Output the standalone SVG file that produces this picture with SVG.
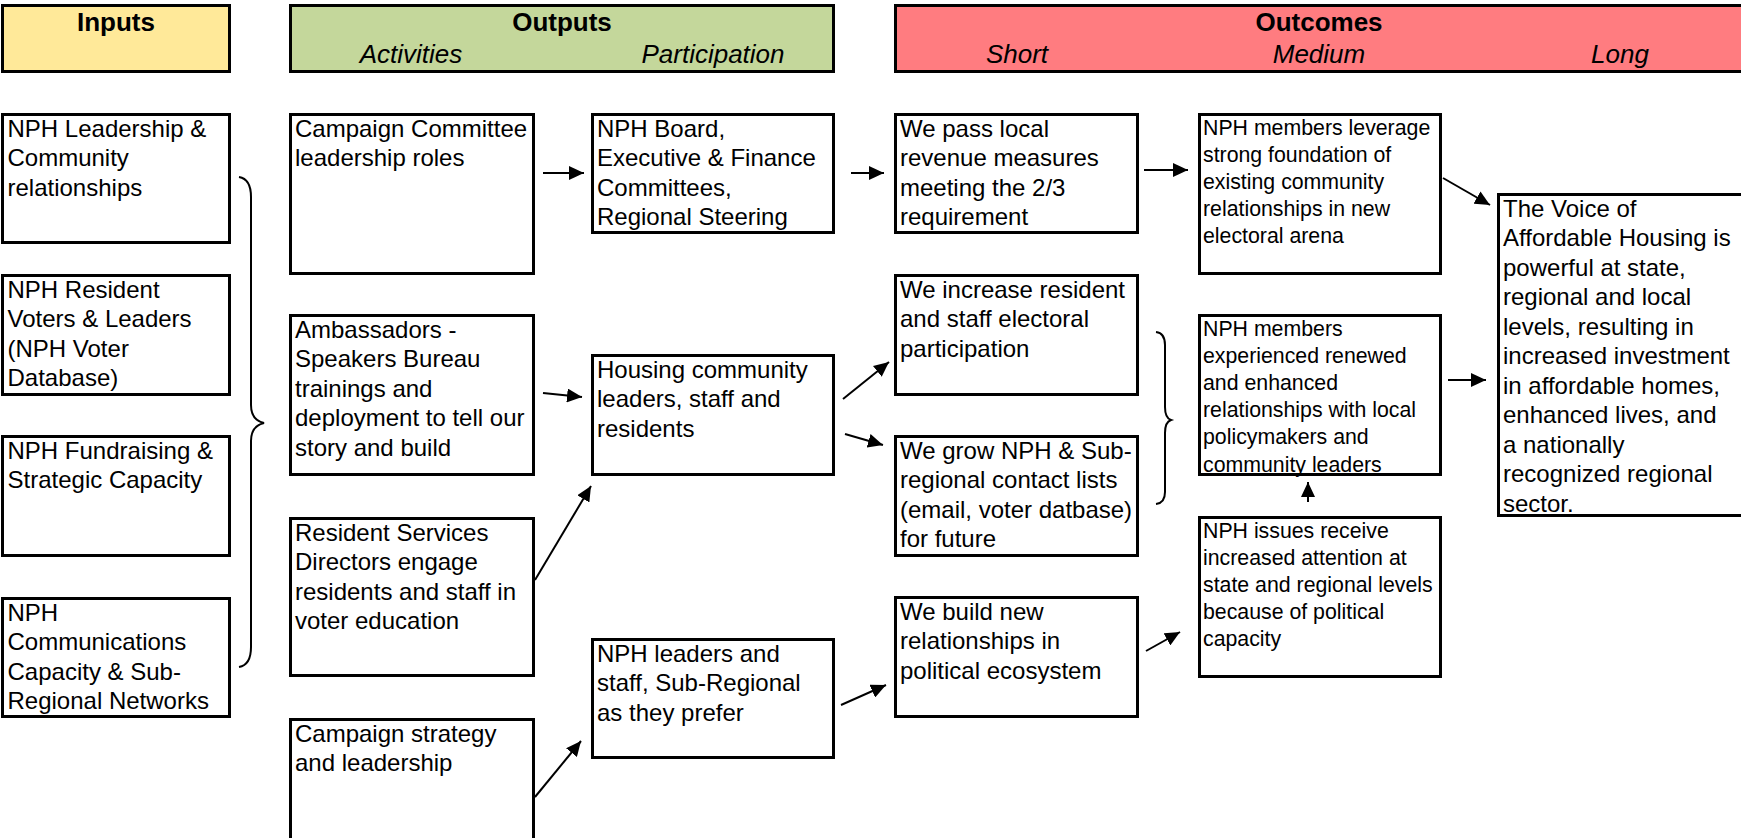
<svg xmlns="http://www.w3.org/2000/svg" width="1741" height="838" viewBox="0 0 1741 838">
<style>
  .box { fill: #FFFFFF; stroke: #000000; stroke-width: 3; }
  .hdr { stroke: #000000; stroke-width: 3; }
  .t { font-family: "Liberation Sans", Arial, sans-serif; font-size: 24px; fill: #000000; }
  .s { font-family: "Liberation Sans", Arial, sans-serif; font-size: 21.3px; fill: #000000; }
  .hb { font-family: "Liberation Sans", Arial, sans-serif; font-size: 26px; font-weight: bold; fill: #000000; text-anchor: middle; }
  .hi { font-family: "Liberation Sans", Arial, sans-serif; font-size: 26px; font-style: italic; fill: #000000; text-anchor: middle; }
  .c { fill: none; stroke: #000000; stroke-width: 2; }
  .a { marker-end: url(#arr); }
</style>
<defs>
  <marker id="arr" markerUnits="userSpaceOnUse" markerWidth="16" markerHeight="14" refX="15" refY="7" orient="auto">
    <path d="M0,0 L15,7 L0,14 Z" fill="#000000"/>
  </marker>
</defs>
<rect x="0" y="0" width="1741" height="838" fill="#FFFFFF"/>

<g id="headers">
  <g id="hdr-inputs">
    <rect class="hdr" x="2.5" y="5.5" width="227" height="66" fill="#FFE999"/>
    <text class="hb" x="116" y="30.5">Inputs</text>
  </g>
  <g id="hdr-outputs">
    <rect class="hdr" x="290.5" y="5.5" width="543" height="66" fill="#C4D79B"/>
    <text class="hb" x="562" y="30.5">Outputs</text>
    <text class="hi" x="411" y="63">Activities</text>
    <text class="hi" x="713" y="63">Participation</text>
  </g>
  <g id="hdr-outcomes">
    <rect class="hdr" x="895.5" y="5.5" width="900" height="66" fill="#FF7C80"/>
    <text class="hb" x="1319" y="30.5">Outcomes</text>
    <text class="hi" x="1017" y="63">Short</text>
    <text class="hi" x="1319" y="63">Medium</text>
    <text class="hi" x="1620" y="63">Long</text>
  </g>
</g>

<g id="in1">
  <rect class="box" x="2.5" y="114.5" width="227" height="128"/>
  <text class="t"><tspan x="7.5" y="136.5">NPH Leadership &amp;</tspan><tspan x="7.5" y="166">Community</tspan><tspan x="7.5" y="195.5">relationships</tspan></text>
</g>
<g id="in2">
  <rect class="box" x="2.5" y="275.5" width="227" height="119"/>
  <text class="t"><tspan x="7.5" y="297.5">NPH Resident</tspan><tspan x="7.5" y="327">Voters &amp; Leaders</tspan><tspan x="7.5" y="356.5">(NPH Voter</tspan><tspan x="7.5" y="386">Database)</tspan></text>
</g>
<g id="in3">
  <rect class="box" x="2.5" y="436.5" width="227" height="119"/>
  <text class="t"><tspan x="7.5" y="458.5">NPH Fundraising &amp;</tspan><tspan x="7.5" y="488">Strategic Capacity</tspan></text>
</g>
<g id="in4">
  <rect class="box" x="2.5" y="598.5" width="227" height="118"/>
  <text class="t"><tspan x="7.5" y="620.5">NPH</tspan><tspan x="7.5" y="650">Communications</tspan><tspan x="7.5" y="679.5">Capacity &amp; Sub-</tspan><tspan x="7.5" y="709">Regional Networks</tspan></text>
</g>

<g id="act1">
  <rect class="box" x="290.5" y="114.5" width="243" height="159"/>
  <text class="t"><tspan x="295" y="136.5">Campaign Committee</tspan><tspan x="295" y="166">leadership roles</tspan></text>
</g>
<g id="act2">
  <rect class="box" x="290.5" y="315.5" width="243" height="159"/>
  <text class="t"><tspan x="295" y="337.5">Ambassadors -</tspan><tspan x="295" y="367">Speakers Bureau</tspan><tspan x="295" y="396.5">trainings and</tspan><tspan x="295" y="426">deployment to tell our</tspan><tspan x="295" y="455.5">story and build</tspan></text>
</g>
<g id="act3">
  <rect class="box" x="290.5" y="518.5" width="243" height="157"/>
  <text class="t"><tspan x="295" y="540.5">Resident Services</tspan><tspan x="295" y="570">Directors engage</tspan><tspan x="295" y="599.5">residents and staff in</tspan><tspan x="295" y="629">voter education</tspan></text>
</g>
<g id="act4">
  <rect class="box" x="290.5" y="719.5" width="243" height="140"/>
  <text class="t"><tspan x="295" y="741.5">Campaign strategy</tspan><tspan x="295" y="771">and leadership</tspan></text>
</g>

<g id="part1">
  <rect class="box" x="592.5" y="114.5" width="241" height="118"/>
  <text class="t"><tspan x="597" y="136.5">NPH Board,</tspan><tspan x="597" y="166">Executive &amp; Finance</tspan><tspan x="597" y="195.5">Committees,</tspan><tspan x="597" y="225">Regional Steering</tspan></text>
</g>
<g id="part2">
  <rect class="box" x="592.5" y="355.5" width="241" height="119"/>
  <text class="t"><tspan x="597" y="377.5">Housing community</tspan><tspan x="597" y="407">leaders, staff and</tspan><tspan x="597" y="436.5">residents</tspan></text>
</g>
<g id="part3">
  <rect class="box" x="592.5" y="639.5" width="241" height="118"/>
  <text class="t"><tspan x="597" y="661.5">NPH leaders and</tspan><tspan x="597" y="691">staff, Sub-Regional</tspan><tspan x="597" y="720.5">as they prefer</tspan></text>
</g>

<g id="short1">
  <rect class="box" x="895.5" y="114.5" width="242" height="118"/>
  <text class="t"><tspan x="900" y="136.5">We pass local</tspan><tspan x="900" y="166">revenue measures</tspan><tspan x="900" y="195.5">meeting the 2/3</tspan><tspan x="900" y="225">requirement</tspan></text>
</g>
<g id="short2">
  <rect class="box" x="895.5" y="275.5" width="242" height="119"/>
  <text class="t"><tspan x="900" y="297.5">We increase resident</tspan><tspan x="900" y="327">and staff electoral</tspan><tspan x="900" y="356.5">participation</tspan></text>
</g>
<g id="short3">
  <rect class="box" x="895.5" y="436.5" width="242" height="119"/>
  <text class="t"><tspan x="900" y="458.5">We grow NPH &amp; Sub-</tspan><tspan x="900" y="488">regional contact lists</tspan><tspan x="900" y="517.5">(email, voter datbase)</tspan><tspan x="900" y="547">for future</tspan></text>
</g>
<g id="short4">
  <rect class="box" x="895.5" y="597.5" width="242" height="119"/>
  <text class="t"><tspan x="900" y="619.5">We build new</tspan><tspan x="900" y="649">relationships in</tspan><tspan x="900" y="678.5">political ecosystem</tspan></text>
</g>

<g id="med1">
  <rect class="box" x="1199.5" y="114.5" width="241" height="159"/>
  <text class="s"><tspan x="1203" y="134.5">NPH members leverage</tspan><tspan x="1203" y="161.7">strong foundation of</tspan><tspan x="1203" y="188.9">existing community</tspan><tspan x="1203" y="216.1">relationships in new</tspan><tspan x="1203" y="243.3">electoral arena</tspan></text>
</g>
<g id="med2">
  <rect class="box" x="1199.5" y="315.5" width="241" height="159"/>
  <text class="s"><tspan x="1203" y="335.5">NPH members</tspan><tspan x="1203" y="362.7">experienced renewed</tspan><tspan x="1203" y="389.9">and enhanced</tspan><tspan x="1203" y="417.1">relationships with local</tspan><tspan x="1203" y="444.3">policymakers and</tspan><tspan x="1203" y="471.5">community leaders</tspan></text>
</g>
<g id="med3">
  <rect class="box" x="1199.5" y="517.5" width="241" height="159"/>
  <text class="s"><tspan x="1203" y="537.5">NPH issues receive</tspan><tspan x="1203" y="564.7">increased attention at</tspan><tspan x="1203" y="591.9">state and regional levels</tspan><tspan x="1203" y="619.1">because of political</tspan><tspan x="1203" y="646.3">capacity</tspan></text>
</g>

<g id="long1">
  <rect class="box" x="1498.5" y="194.5" width="300" height="321"/>
  <text class="t"><tspan x="1503" y="216.5">The Voice of</tspan><tspan x="1503" y="246">Affordable Housing is</tspan><tspan x="1503" y="275.5">powerful at state,</tspan><tspan x="1503" y="305">regional and local</tspan><tspan x="1503" y="334.5">levels, resulting in</tspan><tspan x="1503" y="364">increased investment</tspan><tspan x="1503" y="393.5">in affordable homes,</tspan><tspan x="1503" y="423">enhanced lives, and</tspan><tspan x="1503" y="452.5">a nationally</tspan><tspan x="1503" y="482">recognized regional</tspan><tspan x="1503" y="511.5">sector.</tspan></text>
</g>

<g id="connectors">
  <path class="c" d="M239,177 Q251,179 251,197 L251,405 Q251,420 264,423 Q251,426 251,441 L251,647 Q251,665 239,667"/>
  <path class="c" d="M1156,332 Q1165,333 1165,345 L1165,407 Q1165,418 1171,420 Q1165,422 1165,433 L1165,492 Q1165,503 1156,504"/>
  <path class="c a" d="M543,173 L584,173"/>
  <path class="c a" d="M851,173 L884,173"/>
  <path class="c a" d="M1144,170 L1188,170"/>
  <path class="c a" d="M1443,178 L1490,205"/>
  <path class="c a" d="M543,393 L582,397"/>
  <path class="c a" d="M535,580 L591,486"/>
  <path class="c a" d="M535,797 L581,741"/>
  <path class="c a" d="M843,399 L889,362"/>
  <path class="c a" d="M845,434 L883,445"/>
  <path class="c a" d="M841,705 L886,685"/>
  <path class="c a" d="M1146,651 L1180,632"/>
  <path class="c a" d="M1308,502 L1308,482"/>
  <path class="c a" d="M1448,380 L1486,380"/>
</g>
</svg>
